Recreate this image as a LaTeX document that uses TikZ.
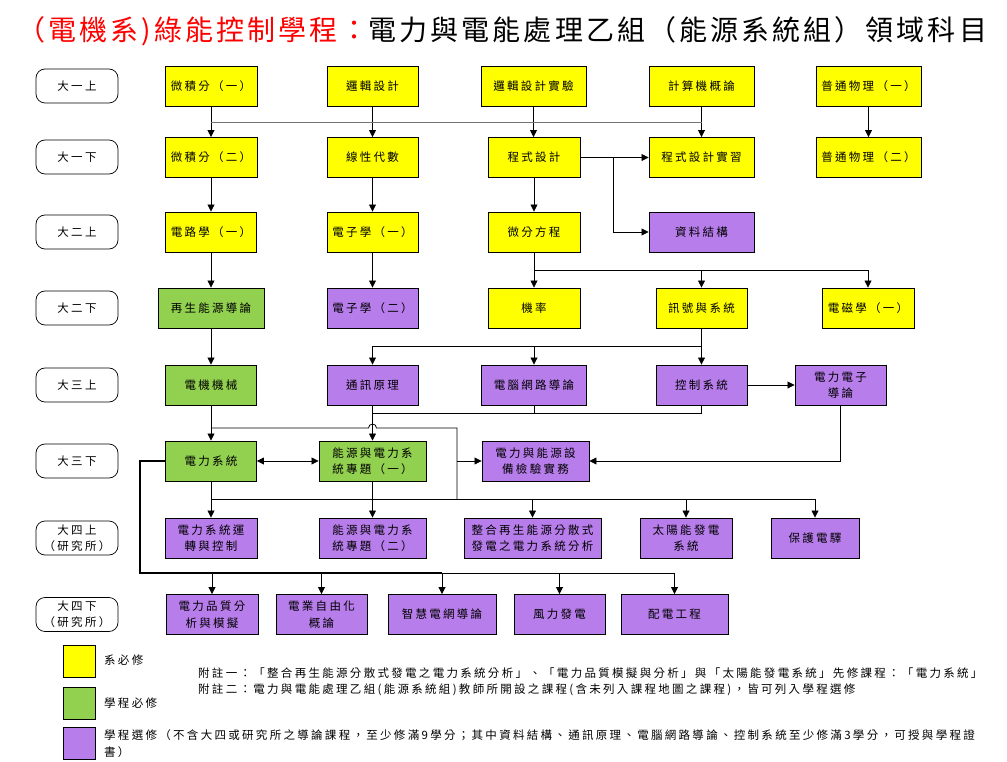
\documentclass[tikz,border=0pt]{standalone}
\usepackage{fontspec}
\setmainfont{Noto Sans CJK TC}[LetterSpace=20]
\newfontfamily\titlefont{Noto Sans CJK TC}[LetterSpace=11]
\usetikzlibrary{arrows.meta,calc}
\definecolor{req}{RGB}{255,255,0}
\definecolor{prog}{RGB}{146,208,80}
\definecolor{elec}{RGB}{183,125,235}
\definecolor{ink}{RGB}{0,0,0}
\tikzset{
  >={Triangle[length=7pt,width=7pt]},
  course/.style={draw=black,fill=#1,line width=0.9pt,minimum height=40pt,
    minimum width=92pt,align=center,inner sep=1pt,
    font=\fontsize{11.5}{16.5}\selectfont},
  course/.default=req,
  term/.style={draw=black,rounded corners=9pt,line width=0.7pt,
    minimum width=82pt,minimum height=34pt,align=center,inner sep=1pt,
    font=\fontsize{11.5}{16}\selectfont},
  flow/.style={->,line width=0.8pt,draw=#1},
  flow/.default=ink,
  link/.style={line width=0.8pt,draw=#1},
  link/.default=ink,
  note/.style={anchor=west,align=left,inner sep=0pt,font=\fontsize{11.5}{17}\selectfont},
}
\begin{document}
\begin{tikzpicture}[x=1pt,y=-1pt]
  \useasboundingbox (0,0) rectangle (1007,762);
  % title
  \node[anchor=west,inner sep=0pt,font=\titlefont\fontsize{28}{30}\selectfont] (title) at (17,31)
    {\textcolor{red}{（電機系)綠能控制學程：}電力與電能處理乙組（能源系統組）領域科目};
  % terms
  \foreach \t/\y [count=\i] in {大一上/86,大一下/157,大二上/232,大二下/308,大三上/385,大三下/461,大四上\\（研究所）/538,大四下\\（研究所）/614.5}
    \node[term] (t\i) at (77,\y) {\t};
  % row 1
  \node[course] (c11) at (211,86.5) {微積分（一）};
  \node[course,minimum width=91pt] (c12) at (372.5,86.5) {邏輯設計};
  \node[course,minimum width=105pt] (c13) at (533.5,86.5) {邏輯設計實驗};
  \node[course,minimum width=105pt] (c14) at (701.5,86.5) {計算機概論};
  \node[course,minimum width=105pt] (c15) at (868.5,86.5) {普通物理（一）};
  % row 2
  \node[course] (c21) at (211,157.5) {微積分（二）};
  \node[course,minimum width=91pt] (c22) at (372.5,157.5) {線性代數};
  \node[course] (c23) at (534,157.5) {程式設計};
  \node[course,minimum width=105pt] (c24) at (701.5,157.5) {程式設計實習};
  \node[course,minimum width=105pt] (c25) at (868.5,157.5) {普通物理（二）};
  % row 3
  \node[course,minimum width=91pt] (c31) at (211,232) {電路學（一）};
  \node[course,minimum width=91pt] (c32) at (372.5,232) {電子學（一）};
  \node[course] (c33) at (534,232) {微分方程};
  \node[course=elec,minimum width=105pt] (c34) at (701.5,232) {資料結構};
  % row 4
  \node[course=prog,minimum width=106pt] (c41) at (211,308) {再生能源導論};
  \node[course=elec,minimum width=91pt] (c42) at (372.5,308) {電子學（二）};
  \node[course] (c43) at (534,308) {機率};
  \node[course,minimum width=91pt] (c44) at (701.5,308) {訊號與系統};
  \node[course] (c45) at (868,308) {電磁學（一）};
  % row 5
  \node[course=prog,minimum width=91pt] (c51) at (211,385) {電機機械};
  \node[course=elec,minimum width=91pt] (c52) at (372.5,385) {通訊原理};
  \node[course=elec,minimum width=105pt] (c53) at (534,385) {電腦網路導論};
  \node[course=elec,minimum width=91pt] (c54) at (701.5,385) {控制系統};
  \node[course=elec,minimum width=91pt] (c55) at (840.5,385) {電力電子\\導論};
  % row 6
  \node[course=prog,minimum width=91pt] (c61) at (211,461) {電力系統};
  \node[course=prog,minimum width=107pt] (c62) at (372.5,461) {能源與電力系\\統專題（一）};
  \node[course=elec,minimum width=107pt] (c63) at (535.5,461) {電力與能源設\\備檢驗實務};
  % row 7
  \node[course=elec] (c71) at (211,538) {電力系統運\\轉與控制};
  \node[course=elec,minimum width=107pt] (c72) at (372.5,538) {能源與電力系\\統專題（二）};
  \node[course=elec,minimum width=137pt] (c73) at (532.5,538) {整合再生能源分散式\\發電之電力系統分析};
  \node[course=elec] (c74) at (686,538) {太陽能發電\\系統};
  \node[course=elec,minimum width=88pt] (c75) at (815,538) {保護電驛};
  % row 8
  \node[course=elec] (c81) at (212,614.5) {電力品質分\\析與模擬};
  \node[course=elec,minimum width=91pt] (c82) at (321.5,614.5) {電業自由化\\概論};
  \node[course=elec,minimum width=108pt] (c83) at (442,614.5) {智慧電網導論};
  \node[course=elec,minimum width=91pt] (c84) at (559.5,614.5) {風力發電};
  \node[course=elec,minimum width=107pt] (c85) at (674.5,614.5) {配電工程};
  % bus levels and corners
  \coordinate (b1) at (0,122);
  \coordinate (b2) at (0,270);
  \coordinate (b3) at (0,346);
  \coordinate (b4) at (0,413);
  \coordinate (b5) at (0,428);
  \coordinate (b6) at (0,499);
  \coordinate (b7) at (0,573);
  \coordinate (j1) at (613,0);
  \coordinate (j2) at (457,0);
  \coordinate (j3) at (140,0);
  % straight prerequisites
  \foreach \a/\b in {c11/c21,c12/c22,c13/c23,c14/c24,c15/c25,c21/c31,c22/c32,c23/c33,
      c31/c41,c32/c42,c33/c43,c41/c51,c44/c54,c51/c61,c52/c62,c61/c71,c62/c72}
    \draw[flow] (\a.south) -- (\a.south|-\b.north);
  \draw[link=ink!55] (c11.south|-b1) -- (c14.south|-b1);
  \draw[flow] (c23.east) -- (c24.west);
  \draw[flow] (j1|-c23.east) |- (c34.west);
  \draw[link] (c43.north|-b2) -- (c45.north|-b2);
  \foreach \n in {c44,c45} \draw[flow] (\n.north|-b2) -- (\n.north);
  \draw[link] (c52.north|-b3) -- (c54.north|-b3);
  \foreach \n in {c52,c53} \draw[flow] (\n.north|-b3) -- (\n.north);
  \draw[flow] (c54.east) -- (c55.west);
  \draw[link] (c53.south) -- (c53.south|-b4);
  \draw[link] (c54.south) -- (c54.south|-b4);
  \draw[link] (c52.south|-b4) -- (c54.south|-b4);
  \draw[link] (c51.south|-b5) -- ([xshift=-4pt]c52.south|-b5) arc[start angle=180,end angle=0,radius=4pt]
    -- (j2|-b5) -- (j2|-b6);
  \draw[flow] (j2|-c63.west) -- (c63.west);
  \draw[flow] (c55.south) |- (c63.east);
  \draw[flow,<->] (c61.east) -- (c62.west);
  \draw[link] (c71.north|-b6) -- (c75.north|-b6);
  \foreach \n in {c73,c74,c75} \draw[flow] (\n.north|-b6) -- (\n.north);
  \draw[link,line width=1.8pt] (c61.west) -| (j3|-b7) -- (c83.north|-b7);
  \draw[link] (c83.north|-b7) -- (c85.north|-b7);
  \foreach \n in {c81,c82,c83,c84,c85} \draw[flow] (\n.north|-b7) -- (\n.north);
  % legend
  \node[course,minimum width=32pt,minimum height=32pt] (lg1) at (79,661) {};
  \node[course=prog,minimum width=32pt,minimum height=32pt] (lg2) at (79,703) {};
  \node[course=elec,minimum width=32pt,minimum height=32pt] (lg3) at (79,743) {};
  \node[note] (lt1) at (104,660) {系必修};
  \node[note] (lt2) at (104,703) {學程必修};
  \node[note] (lt3) at (104,743.5) {學程選修（不含大四或研究所之導論課程，至少修滿9學分；其中資料結構、通訊原理、電腦網路導論、控制系統至少修滿3學分，可授與學程證\\書）};
  \node[note] (n1) at (198,673) {附註一：「整合再生能源分散式發電之電力系統分析」、「電力品質模擬與分析」與「太陽能發電系統」先修課程：「電力系統」};
  \node[note] (n2) at (198,690) {附註二：電力與電能處理乙組(能源系統組)教師所開設之課程(含未列入課程地圖之課程)，皆可列入學程選修};
\end{tikzpicture}
\end{document}
